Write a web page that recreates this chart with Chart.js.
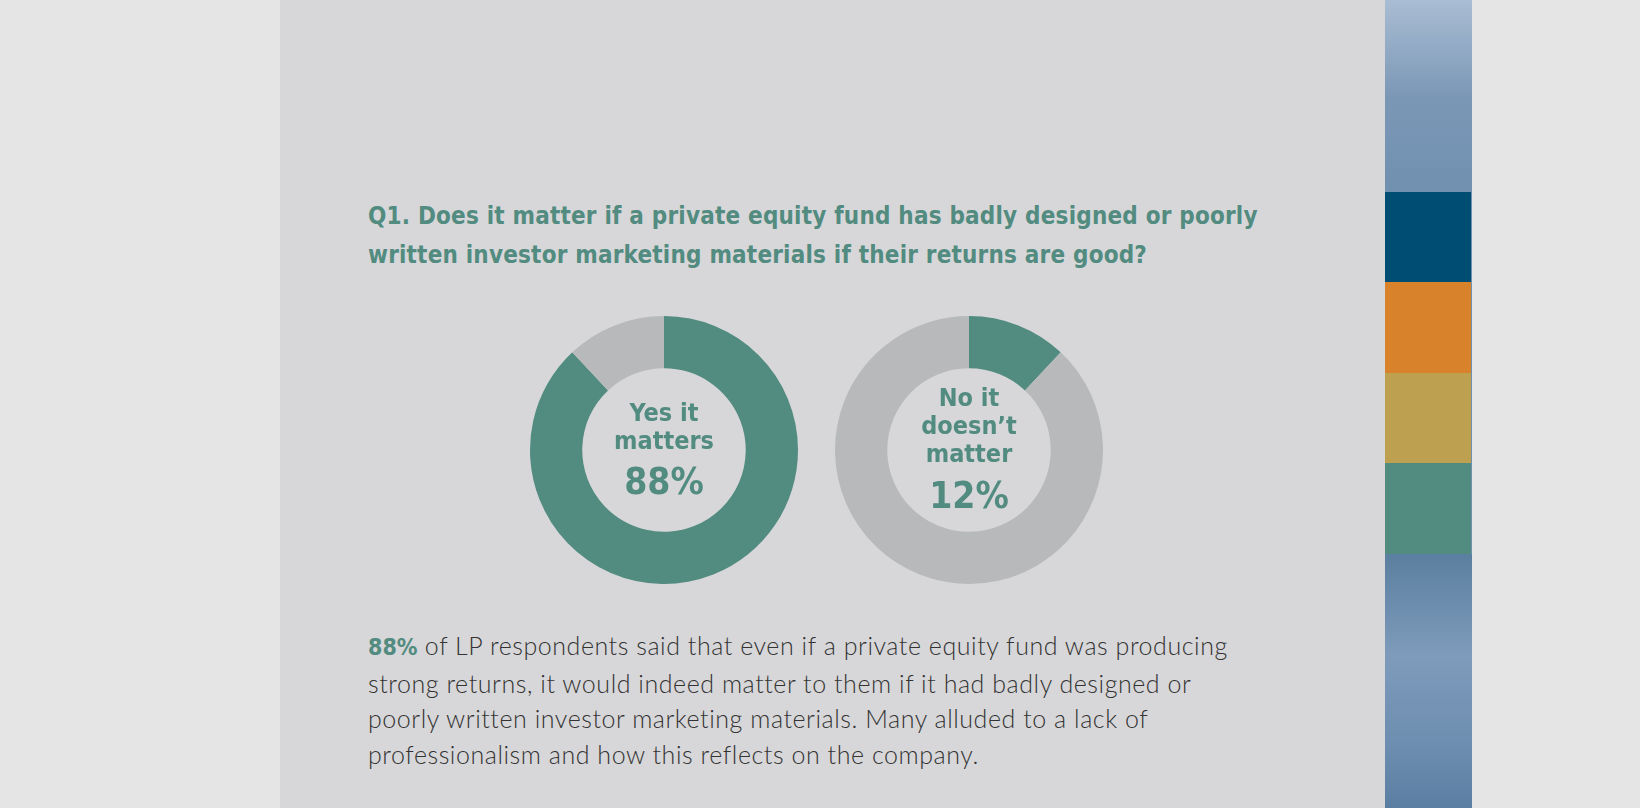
<!DOCTYPE html>
<html>
<head>
<meta charset="utf-8">
<script src="https://cdn.jsdelivr.net/npm/chart.js@4"></script>
<style>
  body { margin: 0; width: 1640px; height: 808px; background: #e5e5e5; position: relative; overflow: hidden; font-family: "DejaVu Sans Condensed", "DejaVu Sans", sans-serif; }
  #panel { position: absolute; left: 280px; top: 0; width: 1105px; height: 808px; background: #d7d7d9; }
  #strip { position: absolute; left: 1385px; top: 0; width: 87px; height: 808px;
           background: linear-gradient(180deg, #a9bdd3 0%, #7b97b6 12%, #7090b0 24%); }
  #strip2 { position: absolute; left: 1385px; top: 554px; width: 87px; height: 254px;
            background: linear-gradient(180deg, #5b7fa0 0%, #7e9bbb 40%, #6d8eb0 75%, #5a7ea2 100%); }
  .blk { position: absolute; left: 1385px; width: 86px; }
  h1 { position: absolute; left: 368px; top: 197px; margin: 0; font-size: 24px; line-height: 39px; color: #528b80; font-weight: bold; letter-spacing: 0.2px; }
  .wrap { position: absolute; top: 310px; width: 280px; height: 280px; }
  .center { position: absolute; left: 0; width: 280px; text-align: center; color: #528b80; font-weight: bold; }
  p { position: absolute; left: 368px; top: 628px; margin: 0; font-family: Lato, "Open Sans", sans-serif; font-weight: 300; font-size: 25px; line-height: 35.5px; color: #333; letter-spacing: 0.55px; }
  p b { color: #528b80; font-family: "DejaVu Sans Condensed", sans-serif; font-weight: bold; font-size: 23px; letter-spacing: 0; }
</style>
</head>
<body>
<div id="panel"></div>
<div id="strip"></div>
<div id="strip2"></div>
<div class="blk" style="top:192px;height:90px;background:#004d73"></div>
<div class="blk" style="top:282px;height:91px;background:#d8832b"></div>
<div class="blk" style="top:373px;height:90px;background:#bea150"></div>
<div class="blk" style="top:463px;height:91px;background:#528b80"></div>

<h1>Q1. Does it matter if a private equity fund has badly designed or poorly<br>written investor marketing materials if their returns are good?</h1>

<div class="wrap" style="left:524px">
  <canvas id="yesChart" width="280" height="280"></canvas>
  <div class="center" style="top:89px;font-size:25px;line-height:28px">Yes it<br>matters</div>
  <div class="center" style="top:150px;font-size:37px">88%</div>
</div>
<div class="wrap" style="left:829px">
  <canvas id="noChart" width="280" height="280"></canvas>
  <div class="center" style="top:74px;font-size:25px;line-height:28px">No it<br>doesn’t<br>matter</div>
  <div class="center" style="top:164px;font-size:37px">12%</div>
</div>

<p><b>88%</b> of LP respondents said that even if a private equity fund was producing<br>strong returns, it would indeed matter to them if it had badly designed or<br>poorly written investor marketing materials. Many alluded to a lack of<br>professionalism and how this reflects on the company.</p>

<script>
const answers = ["Yes it matters", "No it doesn't matter"];
const yesValues = [88, 12];
const noValues = [12, 88];
const teal = "#528b80";
const grey = "#b8b9bb";

function donut(id, values, labels) {
    new Chart(document.getElementById(id), {
        type: "doughnut",
        data: {
            labels: labels,
            datasets: [{
                data: values,
                backgroundColor: [teal, grey],
                borderWidth: 0
            }]
        },
        options: {
            responsive: false,
            animation: false,
            radius: 134,
            cutout: "61%",
            plugins: { legend: { display: false }, tooltip: { enabled: false } }
        }
    });
}

donut("yesChart", yesValues, [answers[0], answers[1]]);
donut("noChart", noValues, [answers[1], answers[0]]);
</script>
</body>
</html>
